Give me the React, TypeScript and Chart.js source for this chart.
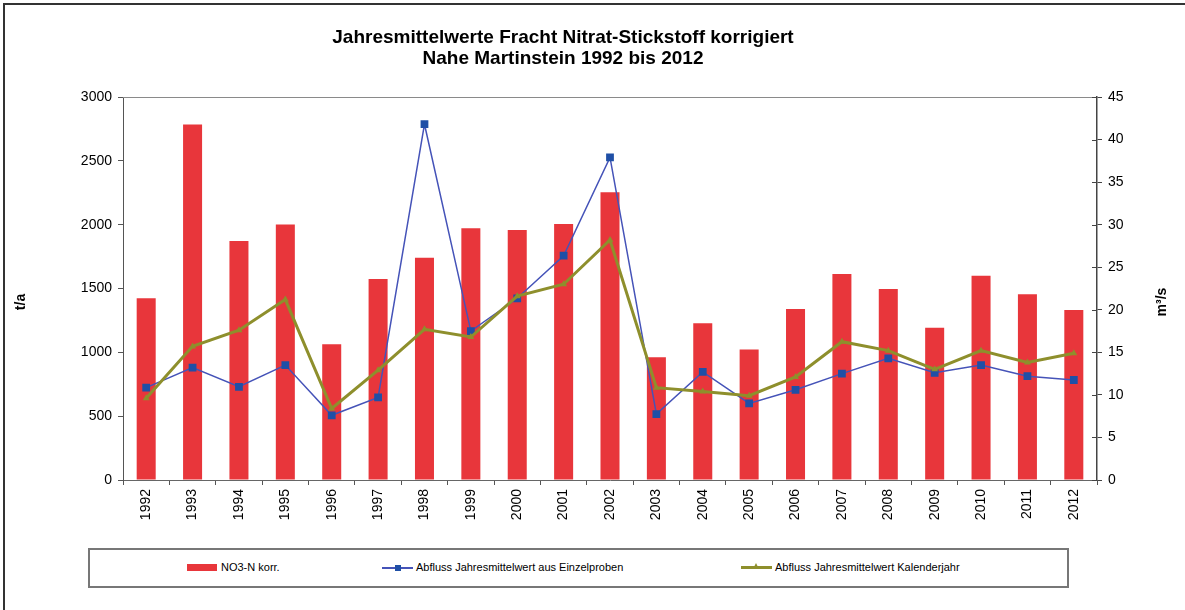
import React, { useEffect, useRef } from "react";
import { Chart, registerables } from "chart.js";

Chart.register(...registerables);

const titleLines = ["Jahresmittelwerte Fracht Nitrat-Stickstoff korrigiert", "Nahe Martinstein 1992 bis 2012"];
const years = ["1992", "1993", "1994", "1995", "1996", "1997", "1998", "1999", "2000", "2001", "2002", "2003", "2004", "2005", "2006", "2007", "2008", "2009", "2010", "2011", "2012"];
const no3nKorr = [1423, 2785, 1872, 2002, 1063, 1574, 1741, 1971, 1958, 2005, 2253, 961, 1227, 1023, 1339, 1613, 1496, 1193, 1600, 1454, 1331];
const abflussEinzelproben = [10.85, 13.2, 10.95, 13.5, 7.6, 9.7, 41.8, 17.5, 21.35, 26.35, 37.9, 7.75, 12.7, 9.0, 10.6, 12.5, 14.3, 12.6, 13.5, 12.2, 11.75];
const abflussKalenderjahr = [9.6, 15.7, 17.6, 21.2, 8.4, 12.9, 17.7, 16.8, 21.6, 23.0, 28.2, 10.85, 10.4, 9.9, 12.1, 16.25, 15.2, 13.0, 15.2, 13.8, 14.9];
const seriesNames = ["NO3-N korr.", "Abfluss Jahresmittelwert aus Einzelproben", "Abfluss Jahresmittelwert Kalenderjahr"];
const leftAxisTitle = "t/a";
const rightAxisTitle = "m³/s";

const FONT = "'Liberation Sans', Arial, sans-serif";
const RED = "#e8363b";
const BLUE_LINE = "#4553b8";
const BLUE_MARK = "#1f4fa6";
const OLIVE = "#8e8f2c";

const decorPlugin = {
  id: "decor",
  afterDraw(chart: any) {
    const ctx = chart.ctx;
    const area = chart.chartArea;
    ctx.save();
    // top frame line of plot
    ctx.strokeStyle = "#8a8a8a";
    ctx.lineWidth = 1;
    ctx.beginPath();
    ctx.moveTo(area.left, area.top + 0.5);
    ctx.lineTo(area.right, area.top + 0.5);
    ctx.stroke();
    // inward ticks on right axis
    const y1 = chart.scales.y1;
    ctx.strokeStyle = "#444";
    ctx.beginPath();
    y1.ticks.forEach((t: any) => {
      const py = Math.round(y1.getPixelForValue(t.value)) + 0.5;
      ctx.moveTo(area.right - 5, py);
      ctx.lineTo(area.right, py);
    });
    ctx.stroke();
    // title
    ctx.fillStyle = "#000";
    ctx.textAlign = "center";
    ctx.textBaseline = "middle";
    ctx.font = `bold 19px ${FONT}`;
    ctx.fillText(titleLines[0], 563, 38);
    ctx.fillText(titleLines[1], 563, 59);
    // axis titles
    ctx.font = `bold 14px ${FONT}`;
    ctx.save();
    ctx.translate(21, 302);
    ctx.rotate(-Math.PI / 2);
    ctx.fillText(leftAxisTitle, 0, 0);
    ctx.restore();
    ctx.save();
    ctx.translate(1162, 302);
    ctx.rotate(-Math.PI / 2);
    ctx.fillText(rightAxisTitle, 0, 0);
    ctx.restore();
    ctx.restore();
  },
};

export default function App() {
  const canvasRef = useRef<HTMLCanvasElement | null>(null);

  useEffect(() => {
    const canvas = canvasRef.current;
    if (!canvas) return;
    const tickFont = { family: FONT, size: 14 };
    const plainLabel = (v: any) => String(v);
    const chart = new Chart(canvas, {
      type: "bar",
      data: {
        labels: years,
        datasets: [
          {
            type: "bar",
            label: seriesNames[0],
            data: no3nKorr,
            backgroundColor: RED,
            borderWidth: 0,
            barPercentage: 0.41,
            categoryPercentage: 1,
            yAxisID: "y",
            order: 3,
          } as any,
          {
            type: "line",
            label: seriesNames[1],
            data: abflussEinzelproben,
            borderColor: BLUE_LINE,
            borderWidth: 1.5,
            pointStyle: "rect",
            pointRadius: 5.5,
            pointBackgroundColor: BLUE_MARK,
            pointBorderColor: BLUE_MARK,
            pointBorderWidth: 0,
            tension: 0,
            yAxisID: "y1",
            order: 2,
          },
          {
            type: "line",
            label: seriesNames[2],
            data: abflussKalenderjahr,
            borderColor: OLIVE,
            borderWidth: 3,
            pointStyle: "triangle",
            pointRadius: 4,
            pointBackgroundColor: OLIVE,
            pointBorderColor: OLIVE,
            pointBorderWidth: 0,
            tension: 0,
            yAxisID: "y1",
            order: 1,
          },
        ],
      },
      options: {
        responsive: false,
        animation: false,
        maintainAspectRatio: false,
        layout: { padding: { top: 97, left: 0, right: 0, bottom: 0 } },
        plugins: {
          legend: { display: false },
          title: { display: false },
          tooltip: { enabled: false },
        },
        scales: {
          x: {
            type: "category",
            offset: true,
            grid: { display: true, offset: true, drawOnChartArea: false, drawTicks: true, tickLength: 5, color: "#555" },
            border: { display: true, color: "#666", width: 1 },
            ticks: { minRotation: 90, maxRotation: 90, autoSkip: false, padding: 4, font: tickFont, color: "#000" },
            afterFit: (s: any) => {
              s.height = 130;
            },
          },
          y: {
            position: "left",
            min: 0,
            max: 3000,
            ticks: { stepSize: 500, padding: 6, font: tickFont, color: "#000", callback: plainLabel },
            grid: { drawOnChartArea: false, drawTicks: true, tickLength: 5, color: "#555" },
            border: { display: true, color: "#555", width: 1 },
            afterFit: (s: any) => {
              s.width = 123;
            },
          },
          y1: {
            position: "right",
            min: 0,
            max: 45,
            ticks: { stepSize: 5, padding: 6, font: tickFont, color: "#000", callback: plainLabel },
            grid: { drawOnChartArea: false, drawTicks: true, tickLength: 5, color: "#444" },
            border: { display: true, color: "#444", width: 1.5 },
            afterFit: (s: any) => {
              s.width = 88;
            },
          },
        },
      } as any,
      plugins: [decorPlugin],
    });
    return () => chart.destroy();
  }, []);

  const legendText: React.CSSProperties = {
    position: "absolute",
    top: 560,
    fontFamily: FONT,
    fontSize: 11,
    lineHeight: "14px",
    color: "#000",
    whiteSpace: "nowrap",
  };

  return (
    <div style={{ position: "absolute", left: 0, top: 0, width: 1185, height: 610, overflow: "hidden", background: "#fff" }}>
      <div style={{ position: "absolute", left: 3, top: 3, width: 1182, height: 2, background: "#333" }} />
      <div style={{ position: "absolute", left: 3, top: 3, width: 2, height: 607, background: "#333" }} />
      <canvas ref={canvasRef} width={1185} height={610} style={{ position: "absolute", left: 0, top: 0, width: 1185, height: 610 }} />
      <div style={{ position: "absolute", left: 88, top: 548, width: 981, height: 40, border: "2px solid #777", boxSizing: "border-box", background: "#fff" }} />
      <div style={{ position: "absolute", left: 187, top: 564, width: 30, height: 7, background: RED }} />
      <div style={{ ...legendText, left: 221 }}>{seriesNames[0]}</div>
      <div style={{ position: "absolute", left: 382, top: 567, width: 31, height: 1.5, background: BLUE_LINE }} />
      <div style={{ position: "absolute", left: 395, top: 565, width: 6, height: 6, background: BLUE_MARK }} />
      <div style={{ ...legendText, left: 416 }}>{seriesNames[1]}</div>
      <div style={{ position: "absolute", left: 741, top: 566, width: 31, height: 3, background: OLIVE }} />
      <div style={{ position: "absolute", left: 753, top: 563, width: 0, height: 0, borderLeft: "3.5px solid transparent", borderRight: "3.5px solid transparent", borderBottom: "6px solid " + OLIVE }} />
      <div style={{ ...legendText, left: 775 }}>{seriesNames[2]}</div>
    </div>
  );
}
